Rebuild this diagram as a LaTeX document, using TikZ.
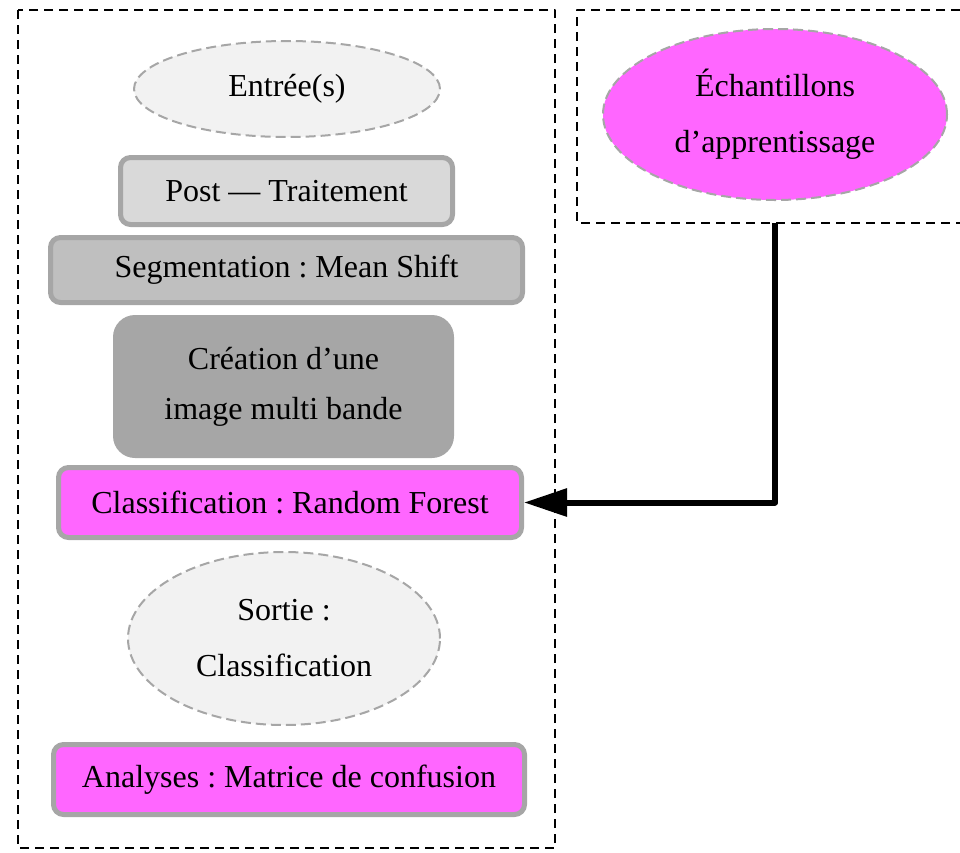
\documentclass[tikz,border=0pt]{standalone}
\usepackage{fontspec}
\setmainfont{Liberation Serif}
\usetikzlibrary{arrows.meta,shapes.geometric}
\frenchspacing
\definecolor{rose}{HTML}{FF66FF}
\definecolor{bord}{HTML}{A6A6A6}
\definecolor{gris1}{HTML}{F2F2F2}
\definecolor{gris2}{HTML}{D9D9D9}
\definecolor{gris3}{HTML}{BFBFBF}
\definecolor{gris4}{HTML}{A6A6A6}
\begin{document}
\begin{tikzpicture}[line cap=butt,line join=round,x=1pt,y=-1pt,
	font=\fontsize{32}{56}\selectfont,
	cadre/.style={draw=black,line width=2pt,dash pattern=on 9pt off 6pt},
	bulle/.style={ellipse,draw=bord,line width=2pt,dash pattern=on 10pt off 5pt,inner sep=0pt,align=center},
	etape/.style={rectangle,rounded corners=10pt,draw=bord,line width=5pt,inner sep=0pt,align=center}]
		\useasboundingbox (0,0) rectangle (960,852);
		\clip (0,0) rectangle (960,852);
		\draw [cadre] (18,10) rectangle (555,848);
		\draw [cadre] (975,10) -- (577,10) -- (577,223) -- (975,223);
		\node [bulle,fill=gris1,minimum width=306,minimum height=96] (entree) at (287,89) {Entrée(s)};
		\node [etape,fill=gris2,minimum width=332,minimum height=67] (post) at (286.5,191) {Post — Traitement};
		\node [etape,fill=gris3,minimum width=472,minimum height=65] (seg) at (286.5,270) {Segmentation : Mean Shift};
		\node [rectangle,rounded corners=22pt,fill=gris4,minimum width=341,minimum height=143,inner sep=0pt,align=center,font=\fontsize{32}{50}\selectfont] (crea) at (283.5,386.5) {Création d’une\\image multi bande};
		\node [etape,fill=rose,minimum width=463,minimum height=70] (rf) at (290,502.5) {Classification : Random Forest};
		\node [bulle,fill=gris1,minimum width=312,minimum height=173] (sortie) at (284,638.5) {Sortie :\\Classification};
		\node [etape,fill=rose,minimum width=471,minimum height=70] (analyses) at (289,779.5) {Analyses : Matrice de confusion};
		\node [bulle,fill=rose,minimum width=344,minimum height=171] (ech) at (775,114.5) {Échantillons\\d’apprentissage};
		\coordinate (depart) at (775,223);
		\draw [line width=6pt,-{Triangle[length=43pt,width=27pt]}] (depart) |- (rf.east);
	\end{tikzpicture}
\end{document}
